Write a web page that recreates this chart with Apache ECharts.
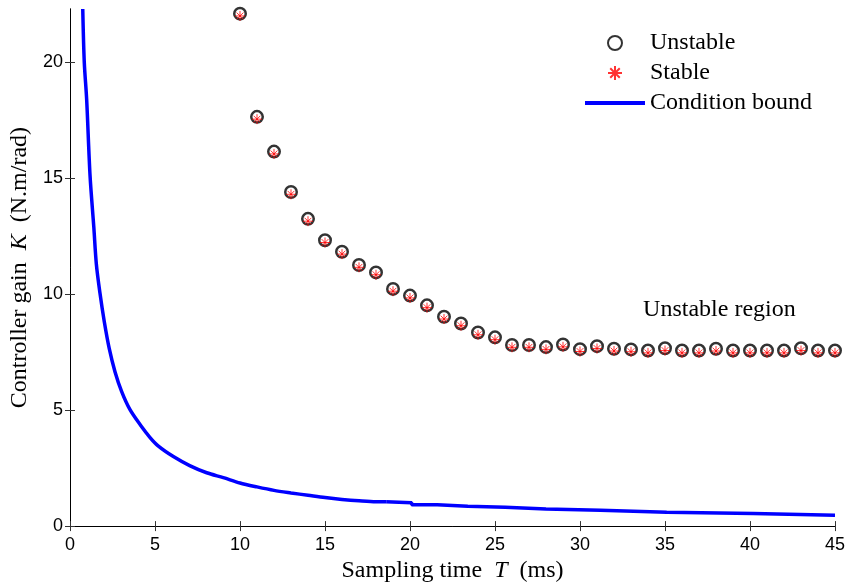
<!DOCTYPE html>
<html>
<head>
<meta charset="utf-8">
<script src="https://cdn.jsdelivr.net/npm/echarts@6/dist/echarts.min.js"></script>
<style>html,body{margin:0;padding:0;background:#fff;}#c{width:849px;height:588px;}</style>
</head>
<body>
<div id="c"></div>
<script>
// Sampling times (ms) of the tested points
const sampleT = [10,11,12,13,14,15,16,17,18,19,20,21,22,23,24,25,26,27,28,29,30,31,32,33,34,35,36,37,38,39,40,41,42,43,44,45];
// Unstable gains (circles)
const unstableK = [22.1,17.65,16.15,14.41,13.25,12.33,11.83,11.26,10.94,10.23,9.94,9.52,9.03,8.74,8.35,8.14,7.81,7.81,7.72,7.83,7.63,7.76,7.65,7.62,7.57,7.67,7.57,7.57,7.65,7.57,7.57,7.57,7.57,7.67,7.57,7.57];
// Stable gains (stars)
const stableK = [22.0,17.55,16.05,14.31,13.15,12.23,11.73,11.16,10.84,10.13,9.84,9.42,8.93,8.64,8.25,8.04,7.71,7.71,7.62,7.73,7.53,7.66,7.55,7.52,7.47,7.57,7.47,7.47,7.55,7.47,7.47,7.47,7.47,7.57,7.47,7.47];
// Condition bound curve: smooth head part
const boundHeadT = [0.75,0.84,0.98,1.18,1.4,1.55,1.76,2.02,2.31,2.65,3.04,3.53,4.15,4.71,5.2,6.08,7.04,8.04,9.02,10,11,12,13,14,15,16,17,18,18.6];
const boundHeadK = [22.3,20,18.4,15.1,12.9,11.3,10.06,8.8,7.65,6.65,5.8,5.02,4.35,3.82,3.45,3.0,2.61,2.30,2.09,1.86,1.69,1.54,1.43,1.33,1.23,1.15,1.09,1.05,1.05];
// Condition bound curve: stepped tail part
const boundTailT = [18.6,18.6,20.1,20.1,21.6,21.6,23.4,23.4,25.6,25.6,28,28,31.2,31.2,35.1,35.1,40.2,40.2,45];
const boundTailK = [1.05,1.01,1.01,0.92,0.92,0.86,0.86,0.81,0.81,0.74,0.74,0.68,0.68,0.60,0.60,0.54,0.54,0.47,0.47];
const xTicks = [0,5,10,15,20,25,30,35,40,45];
const yTicks = [0,5,10,15,20];

const serif = 'Liberation Serif';
const sans = 'Liberation Sans';
const starPath = 'path://M0,5L10,5M5,0L5,10M1.6,1.6L8.4,8.4M8.4,1.6L1.6,8.4';

const chart = echarts.init(document.getElementById('c'), null, {renderer: 'canvas'});
const axisLine = {show: true, lineStyle: {color: '#000', width: 1}};
const xTick = {show: true, inside: true, length: 5, customValues: xTicks, lineStyle: {color: '#333', width: 1}};
const yTick = {show: true, inside: true, length: 5, customValues: yTicks, lineStyle: {color: '#333', width: 1}};
const boundLine = {color: '#0000ff', width: 3.5};

chart.setOption({
  animation: false,
  backgroundColor: '#fff',
  grid: {left: 70, right: 14, top: 9, bottom: 55, containLabel: false},
  legend: {
    orient: 'vertical', left: 583, top: 31, itemGap: 6, padding: 0,
    itemWidth: 60, itemHeight: 14,
    textStyle: {fontFamily: serif, fontSize: 24, color: '#000'},
    data: ['Unstable', 'Stable', {name: 'Condition bound', itemStyle: {opacity: 0}, lineStyle: {width: 4, color: '#0000ff'}}]
  },
  xAxis: [{
    type: 'value', min: 0, max: 45, interval: 5,
    axisLine: axisLine, axisTick: xTick, splitLine: {show: false},
    axisLabel: {customValues: xTicks, fontFamily: sans, fontSize: 18, color: '#000', margin: 10},
    name: '{n|Sampling time  }{i|T}{n|  (ms)}', nameLocation: 'middle', nameGap: 31,
    nameTextStyle: {rich: {n: {fontFamily: serif, fontSize: 24, color: '#000'}, i: {fontFamily: serif, fontSize: 24, fontStyle: 'italic', color: '#000'}}}
  }, {
    type: 'value', min: 0, max: 45, interval: 5, position: 'top',
    axisLine: axisLine, axisTick: xTick, axisLabel: {show: false}, splitLine: {show: false}
  }],
  yAxis: [{
    type: 'value', min: 0, max: 22.3, interval: 5,
    axisLine: axisLine, axisTick: yTick, splitLine: {show: false},
    axisLabel: {customValues: yTicks, fontFamily: sans, fontSize: 18, color: '#000', margin: 7},
    name: '{n|Controller gain  }{i|K}{n|  (N.m/rad)}', nameLocation: 'middle', nameGap: 38,
    nameTextStyle: {rich: {n: {fontFamily: serif, fontSize: 24, color: '#000'}, i: {fontFamily: serif, fontSize: 24, fontStyle: 'italic', color: '#000'}}}
  }, {
    type: 'value', min: 0, max: 22.3, interval: 5, position: 'right',
    axisLine: axisLine, axisTick: yTick, axisLabel: {show: false}, splitLine: {show: false}
  }],
  series: [{
    name: 'Unstable', type: 'scatter', symbol: 'circle', symbolSize: 11.5,
    itemStyle: {color: 'rgba(0,0,0,0)', borderColor: '#000', borderWidth: 2.5},
    data: sampleT.map((t, i) => [t, unstableK[i]]), z: 3
  }, {
    name: 'Stable', type: 'scatter', symbol: starPath, symbolSize: 10,
    itemStyle: {color: '#ff0000', borderColor: '#ff0000', borderWidth: 1},
    data: sampleT.map((t, i) => [t, stableK[i]]), z: 4
  }, {
    name: 'Condition bound', type: 'line', symbol: 'none', showSymbol: false,
    smooth: 0.3, lineStyle: boundLine, itemStyle: {color: '#0000ff'}, clip: true,
    data: boundHeadT.map((t, i) => [t, boundHeadK[i]]), z: 2,
    markPoint: {
      symbol: 'circle', symbolSize: 0,
      label: {show: true, position: 'inside', formatter: 'Unstable region', fontFamily: serif, fontSize: 24, color: '#000'},
      data: [{coord: [38.2, 9.35]}]
    }
  }, {
    name: 'Condition bound', type: 'line', symbol: 'none', showSymbol: false,
    lineStyle: boundLine, itemStyle: {color: '#0000ff'}, clip: true,
    data: boundTailT.map((t, i) => [t, boundTailK[i]]), z: 2
  }]
});
</script>
</body>
</html>
